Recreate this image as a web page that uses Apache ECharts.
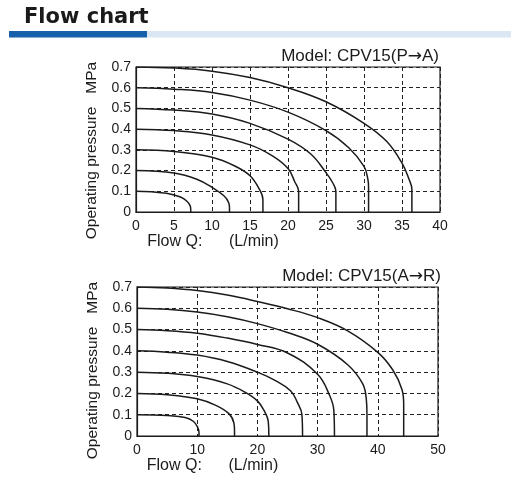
<!DOCTYPE html>
<html><head><meta charset="utf-8">
<script src="https://cdn.jsdelivr.net/npm/echarts@6/dist/echarts.min.js"></script>
<style>html,body{margin:0;padding:0;background:#fff}#c{width:516px;height:480px}</style>
</head><body><div id="c"></div>
<script>
// ---- text ----
const pageTitle = 'Flow chart';
const modelTop = 'Model: CPV15(P{arr|→}A)';
const modelBottom = 'Model: CPV15(A{arr|→}R)';
const yAxisName = 'Operating pressure   MPa';
const xAxisName = 'Flow Q:      (L/min)';

// ---- axis ranges (tick labels) ----
const yRange = [0, 0.7, 0.1];
const topXRange = [0, 40, 5];
const bottomXRange = [0, 50, 10];

// ---- P→A curves: [flow L/min, pressure MPa] ----
const pa01 = [[0,0.1],[2,0.098],[4,0.09],[5,0.082],[6,0.07],[6.7,0.052],[7.1,0.032],[7.2,0.015],[7.2,0]];
const pa02 = [[0,0.2],[5,0.188],[8,0.158],[10,0.119],[11.6,0.077],[12.2,0.045],[12.3,0.02],[12.3,0]];
const pa03 = [[0,0.3],[5,0.292],[10,0.264],[13,0.222],[15,0.175],[16.2,0.112],[16.7,0.06],[16.7,0]];
const pa04 = [[0,0.4],[5,0.393],[10,0.372],[15,0.324],[18,0.27],[20,0.21],[20.9,0.145],[21.4,0.1],[21.4,0]];
const pa05 = [[0,0.5],[5,0.492],[10,0.473],[15,0.428],[20,0.352],[23,0.28],[25,0.19],[25.9,0.14],[26.3,0.1],[26.3,0]];
const pa06 = [[0,0.6],[5,0.593],[10,0.577],[15,0.54],[20,0.482],[25,0.393],[28,0.31],[30,0.22],[30.5,0.16],[30.6,0.12],[30.6,0]];
const pa07 = [[0,0.7],[5,0.695],[10,0.68],[15,0.649],[20,0.6],[25,0.532],[30,0.428],[33,0.34],[35,0.236],[35.9,0.16],[36.3,0.11],[36.3,0]];

// ---- A→R curves: [flow L/min, pressure MPa] ----
const ar01 = [[0,0.1],[5,0.096],[8,0.087],[9.4,0.068],[10.1,0.04],[10.3,0.015],[10.3,0]];
const ar02 = [[0,0.2],[5,0.194],[10,0.175],[13,0.145],[15.3,0.104],[16.1,0.06],[16.2,0.02],[16.2,0]];
const ar03 = [[0,0.3],[5,0.295],[10,0.279],[15,0.245],[18,0.205],[20,0.165],[21.1,0.12],[21.8,0.07],[21.9,0]];
const ar04 = [[0,0.4],[5,0.394],[10,0.38],[15,0.35],[20,0.3],[23,0.26],[25.5,0.213],[26.6,0.16],[27.4,0.1],[27.5,0]];
const ar05 = [[0,0.5],[5,0.495],[10,0.483],[15,0.46],[20,0.43],[25,0.39],[30,0.29],[32,0.19],[32.7,0.12],[32.8,0]];
const ar06 = [[0,0.6],[5,0.595],[10,0.582],[15,0.56],[20,0.528],[25,0.486],[30,0.431],[35,0.335],[37.5,0.245],[38.1,0.17],[38.2,0.1],[38.2,0]];
const ar07 = [[0,0.7],[5,0.695],[10,0.683],[15,0.662],[20,0.632],[25,0.598],[30,0.556],[35,0.494],[40,0.393],[42.5,0.31],[44,0.22],[44.3,0.15],[44.3,0]];

const topCurves = [pa01, pa02, pa03, pa04, pa05, pa06, pa07];
const bottomCurves = [ar01, ar02, ar03, ar04, ar05, ar06, ar07];

const FONT = 'Liberation Sans, Arial, sans-serif';
const INK = '#1b1b1b';

function xAxisCfg(gridIndex, range) {
  return {
    type: 'value', gridIndex: gridIndex,
    min: range[0], max: range[1], interval: range[2],
    name: xAxisName, nameLocation: 'middle', nameGap: 20,
    nameTextStyle: { fontFamily: FONT, fontSize: 16, color: INK, verticalAlign: 'top', padding: [0, 150, 0, 0] },
    axisLine: { show: true, lineStyle: { color: INK, width: 1.2 } },
    axisTick: { show: false },
    axisLabel: { fontFamily: FONT, fontSize: 14, color: INK, margin: 7 },
    splitLine: { show: true, lineStyle: { color: '#222', width: 1, type: [4, 3] } }
  };
}
function yAxisCfg(gridIndex, shift) {
  return {
    type: 'value', gridIndex: gridIndex,
    min: yRange[0], max: yRange[1], interval: yRange[2],
    name: yAxisName, nameLocation: 'middle', nameRotate: 90, nameGap: 36,
    nameTextStyle: { fontFamily: FONT, fontSize: 15.5, color: INK, padding: [0, shift, 0, 0] },
    axisLine: { show: true, lineStyle: { color: INK, width: 1.2 } },
    axisTick: { show: false },
    axisLabel: { fontFamily: FONT, fontSize: 14, color: INK, margin: 5,
      formatter: v => v === 0 ? '0' : v.toFixed(1) },
    splitLine: { show: true, lineStyle: { color: '#222', width: 1, type: [4, 3] } }
  };
}
function curveSeries(curves, idx) {
  return curves.map(d => ({
    type: 'line', xAxisIndex: idx, yAxisIndex: idx, data: d,
    smooth: 0.4, showSymbol: false, silent: true,
    lineStyle: { color: INK, width: 1.5 }
  }));
}
const modelStyle = {
  fontFamily: FONT, fontWeight: 'normal', fontSize: 17, color: INK,
  rich: { arr: { fontFamily: 'DejaVu Sans, sans-serif', fontSize: 17, color: INK } }
};

const chart = echarts.init(document.getElementById('c'));
chart.setOption({
  animation: false,
  backgroundColor: '#fff',
  title: [
    { text: pageTitle, left: 19, top: 2, textStyle: { fontFamily: 'DejaVu Sans, sans-serif', fontWeight: 'bold', fontSize: 21, color: '#1a1a1a' } },
    { text: modelTop, right: 72, top: 43, textStyle: modelStyle },
    { text: modelBottom, right: 70, top: 263, textStyle: modelStyle }
  ],
  graphic: [
    { type: 'rect', shape: { x: 147, y: 31, width: 364, height: 6.5 }, style: { fill: '#dce7f4' }, silent: true },
    { type: 'rect', shape: { x: 9, y: 31, width: 138, height: 6.5 }, style: { fill: '#1660ac' }, silent: true }
  ],
  grid: [
    { left: 136, right: 76, top: 67, height: 145, show: true, borderColor: INK, borderWidth: 1.2, backgroundColor: 'transparent' },
    { left: 137, right: 78, top: 287, height: 149, show: true, borderColor: INK, borderWidth: 1.2, backgroundColor: 'transparent' }
  ],
  xAxis: [xAxisCfg(0, topXRange), xAxisCfg(1, bottomXRange)],
  yAxis: [yAxisCfg(0, 22), yAxisCfg(1, 18)],
  series: curveSeries(topCurves, 0).concat(curveSeries(bottomCurves, 1))
});
</script>
</body></html>
